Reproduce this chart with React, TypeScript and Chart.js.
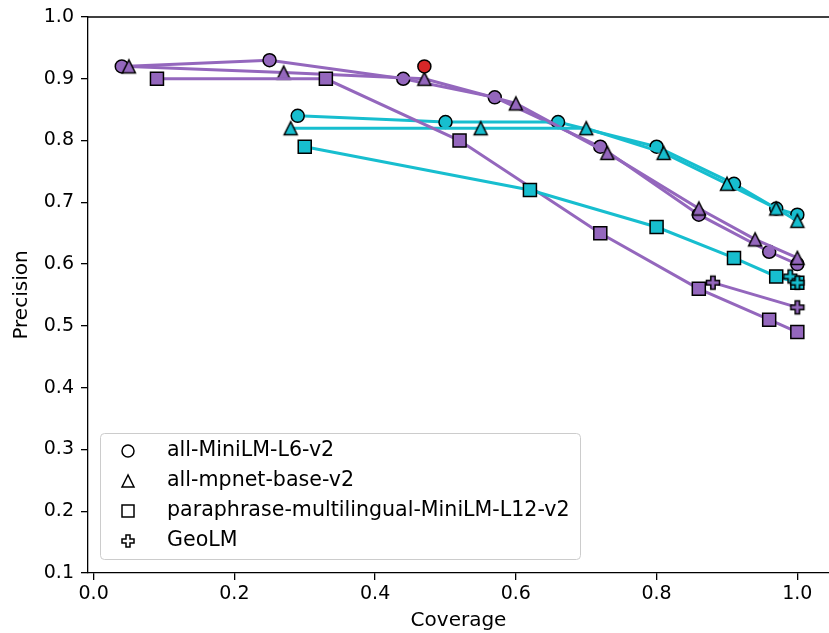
import React, { useEffect, useRef } from 'react';
import { Chart, registerables } from 'chart.js';

Chart.register(...registerables);

const PURPLE = '#9467bd';
const CYAN = '#17becf';
const RED = '#d62728';

const xTicks = [0.0, 0.2, 0.4, 0.6, 0.8, 1.0];
const yTicks = [0.1, 0.2, 0.3, 0.4, 0.5, 0.6, 0.7, 0.8, 0.9, 1.0];

const legendLabels = [
  'all-MiniLM-L6-v2',
  'all-mpnet-base-v2',
  'paraphrase-multilingual-MiniLM-L12-v2',
  'GeoLM',
];

// purple runs
const miniPurpleX = [0.04, 0.25, 0.44, 0.57, 0.72, 0.86, 0.96, 1.0];
const miniPurpleY = [0.92, 0.93, 0.90, 0.87, 0.79, 0.68, 0.62, 0.60];
const mpnetPurpleX = [0.05, 0.27, 0.47, 0.60, 0.73, 0.86, 0.94, 1.0];
const mpnetPurpleY = [0.92, 0.91, 0.90, 0.86, 0.78, 0.69, 0.64, 0.61];
const paraPurpleX = [0.09, 0.33, 0.52, 0.72, 0.86, 0.96, 1.0];
const paraPurpleY = [0.90, 0.90, 0.80, 0.65, 0.56, 0.51, 0.49];
const geoPurpleX = [0.88, 1.0];
const geoPurpleY = [0.57, 0.53];

// cyan runs
const miniCyanX = [0.29, 0.50, 0.66, 0.80, 0.91, 0.97, 1.0];
const miniCyanY = [0.84, 0.83, 0.83, 0.79, 0.73, 0.69, 0.68];
const mpnetCyanX = [0.28, 0.55, 0.70, 0.81, 0.90, 0.97, 1.0];
const mpnetCyanY = [0.82, 0.82, 0.82, 0.78, 0.73, 0.69, 0.67];
const paraCyanX = [0.30, 0.62, 0.80, 0.91, 0.97, 1.0];
const paraCyanY = [0.79, 0.72, 0.66, 0.61, 0.58, 0.57];
const geoCyanX = [0.99, 1.0];
const geoCyanY = [0.58, 0.57];

// highlighted point
const redX = [0.47];
const redY = [0.92];

const zip = (xs: number[], ys: number[]) => xs.map((x, i) => ({ x, y: ys[i] }));

const MS = 13; // marker path size

function pathTriangle(ctx: CanvasRenderingContext2D, cx: number, cy: number, s: number) {
  const h = s / 2;
  ctx.beginPath();
  ctx.moveTo(cx, cy - h);
  ctx.lineTo(cx - h, cy + h);
  ctx.lineTo(cx + h, cy + h);
  ctx.closePath();
}
function pathPlus(ctx: CanvasRenderingContext2D, m: number, n: number, s: number) {
  const a = s / 2;
  const b = s / 6;
  ctx.beginPath();
  ctx.moveTo(m - b, n - a);
  ctx.lineTo(m + b, n - a);
  ctx.lineTo(m + b, n - b);
  ctx.lineTo(m + a, n - b);
  ctx.lineTo(m + a, n + b);
  ctx.lineTo(m + b, n + b);
  ctx.lineTo(m + b, n + a);
  ctx.lineTo(m - b, n + a);
  ctx.lineTo(m - b, n + b);
  ctx.lineTo(m - a, n + b);
  ctx.lineTo(m - a, n - b);
  ctx.lineTo(m - b, n - b);
  ctx.closePath();
}
function pathSquare(ctx: CanvasRenderingContext2D, cx: number, cy: number, s: number) {
  ctx.beginPath();
  ctx.rect(cx - s / 2, cy - s / 2, s, s);
}
function pathCircle(ctx: CanvasRenderingContext2D, cx: number, cy: number, s: number) {
  ctx.beginPath();
  ctx.arc(cx, cy, s / 2, 0, Math.PI * 2);
}

function makeMarker(kind: 'tri' | 'plus', fill: string): HTMLCanvasElement {
  const size = 18;
  const c = document.createElement('canvas');
  c.width = size;
  c.height = size;
  const ctx = c.getContext('2d')!;
  if (kind === 'tri') pathTriangle(ctx, size / 2, size / 2, MS);
  else pathPlus(ctx, size / 2, size / 2, MS);
  ctx.fillStyle = fill;
  ctx.fill();
  ctx.lineWidth = 1.5;
  ctx.lineJoin = 'miter';
  ctx.strokeStyle = '#000';
  ctx.stroke();
  return c;
}

const FONT = '"DejaVu Sans", Verdana, sans-serif';

export default function App() {
  const ref = useRef<HTMLCanvasElement | null>(null);

  useEffect(() => {
    document.body.style.margin = '0';
    const canvas = ref.current!;
    const triP = makeMarker('tri', PURPLE);
    const triC = makeMarker('tri', CYAN);
    const plusP = makeMarker('plus', PURPLE);
    const plusC = makeMarker('plus', CYAN);

    const ds = (data: any[], color: string, style: any, radius: number) => ({
      data,
      showLine: true,
      borderColor: color,
      borderWidth: 3,
      backgroundColor: color,
      pointStyle: style,
      pointRadius: radius,
      pointHoverRadius: radius,
      pointBackgroundColor: color,
      pointBorderColor: '#000',
      pointBorderWidth: 1.5,
      tension: 0,
    });

    // index 0 drawn on top
    const datasets = [
      ds(zip(redX, redY), RED, 'circle', MS / 2),
      ds(zip(geoCyanX, geoCyanY), CYAN, plusC, 8),
      ds(zip(geoPurpleX, geoPurpleY), PURPLE, plusP, 8),
      ds(zip(paraCyanX, paraCyanY), CYAN, 'rect', (MS / 2) / Math.SQRT1_2),
      ds(zip(paraPurpleX, paraPurpleY), PURPLE, 'rect', (MS / 2) / Math.SQRT1_2),
      ds(zip(mpnetCyanX, mpnetCyanY), CYAN, triC, 8),
      ds(zip(mpnetPurpleX, mpnetPurpleY), PURPLE, triP, 8),
      ds(zip(miniCyanX, miniCyanY), CYAN, 'circle', MS / 2),
      ds(zip(miniPurpleX, miniPurpleY), PURPLE, 'circle', MS / 2),
    ];

    const framePlugin = {
      id: 'frame',
      afterDraw(chart: any) {
        const { ctx, chartArea } = chart;
        ctx.save();
        ctx.strokeStyle = '#000';
        ctx.lineWidth = 1.3;
        ctx.beginPath();
        ctx.moveTo(chartArea.left, chartArea.top);
        ctx.lineTo(chartArea.right, chartArea.top);
        ctx.stroke();

        // legend
        const bx = 100.5, by = 433.5, bw = 480, bh = 126;
        ctx.beginPath();
        if ((ctx as any).roundRect) (ctx as any).roundRect(bx, by, bw, bh, 4);
        else ctx.rect(bx, by, bw, bh);
        ctx.fillStyle = 'rgba(255,255,255,0.8)';
        ctx.fill();
        ctx.strokeStyle = '#cccccc';
        ctx.lineWidth = 1;
        ctx.stroke();

        const shapes = [pathCircle, pathTriangle, pathSquare, pathPlus];
        legendLabels.forEach((label, i) => {
          const base = 456 + i * 30;
          const my = base - 5;
          shapes[i](ctx, 128, my, 12);
          ctx.fillStyle = '#fff';
          ctx.fill();
          ctx.strokeStyle = '#000';
          ctx.lineWidth = 1.5;
          ctx.stroke();
          ctx.fillStyle = '#000';
          ctx.font = `20.6px ${FONT}`;
          ctx.textAlign = 'left';
          ctx.textBaseline = 'alphabetic';
          ctx.fillText(label, 167, base);
        });
        ctx.restore();
      },
    };

    const chart = new Chart(canvas, {
      type: 'scatter',
      data: { datasets: datasets as any },
      options: {
        animation: false,
        responsive: false,
        devicePixelRatio: 1,
        layout: { autoPadding: false, padding: { top: 17, right: 0, left: 0, bottom: 0 } },
        plugins: { legend: { display: false }, tooltip: { enabled: false } },
        scales: {
          x: {
            type: 'linear',
            min: -0.008,
            max: 1.045,
            afterBuildTicks: (s: any) => {
              s.ticks = xTicks.map((v) => ({ value: v }));
            },
            afterFit: (s: any) => {
              s.height = 60;
              s.paddingLeft = 0;
              s.paddingRight = 0;
            },
            ticks: {
              color: '#000',
              font: { family: FONT, size: 19 },
              padding: 3,
              maxRotation: 0,
              callback: (v: any) => Number(v).toFixed(1),
            },
            grid: { drawOnChartArea: false, drawTicks: true, tickLength: 7, color: '#000', lineWidth: 1.3 },
            border: { display: true, color: '#000', width: 1.3 },
            title: {
              display: true,
              text: 'Coverage',
              color: '#000',
              font: { family: FONT, size: 20 },
              padding: { top: 0, bottom: 0 },
            },
          },
          y: {
            type: 'linear',
            min: 0.1,
            max: 1.0,
            afterBuildTicks: (s: any) => {
              s.ticks = yTicks.map((v) => ({ value: v }));
            },
            afterFit: (s: any) => {
              s.width = 88;
              s.paddingTop = 0;
              s.paddingBottom = 0;
            },
            ticks: {
              color: '#000',
              font: { family: FONT, size: 19 },
              padding: 7,
              callback: (v: any) => Number(v).toFixed(1),
            },
            grid: { drawOnChartArea: false, drawTicks: true, tickLength: 7, color: '#000', lineWidth: 1.3 },
            border: { display: true, color: '#000', width: 1.3 },
            title: {
              display: true,
              text: 'Precision',
              color: '#000',
              font: { family: FONT, size: 20 },
              padding: { top: 10, bottom: 0 },
            },
          },
        },
      },
      plugins: [framePlugin],
    });

    return () => chart.destroy();
  }, []);

  return (
    <div style={{ width: 829, height: 633 }}>
      <canvas ref={ref} width={829} height={633} style={{ display: 'block' }} />
    </div>
  );
}
